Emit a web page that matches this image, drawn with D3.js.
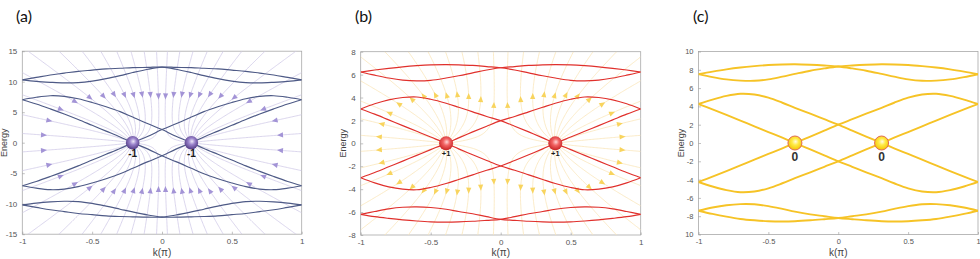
<!DOCTYPE html>
<html><head><meta charset="utf-8">
<script src="https://cdn.jsdelivr.net/npm/d3@7"></script>
<style>body{margin:0;background:#fff}svg{display:block}</style>
</head><body>
<svg id="chart" width="980" height="259"></svg>
<script>
// ---------------- DATA ----------------
const panelTitles = ["(a)", "(b)", "(c)"];
const xTicks = [-1, -0.5, 0, 0.5, 1];
const xTickLabels = ["-1", "-0.5", "0", "0.5", "1"];

// panel (a)
const kA = [-1,-0.9,-0.8,-0.7,-0.6,-0.5,-0.4,-0.3,-0.21,-0.1,0,0.1,0.21,0.3,0.4,0.5,0.6,0.7,0.8,0.9,1];
const aTop1 = [10.3,10.7,11.1,11.4,11.7,11.9,12.1,12.2,12.3,12.35,12.4,12.05,11.5,11.0,10.5,10.1,9.85,9.8,9.9,10.05,10.3];
const aTop2 = [10.3,10.05,9.9,9.8,9.85,10.1,10.5,11.0,11.5,12.05,12.4,12.35,12.3,12.2,12.1,11.9,11.7,11.4,11.1,10.7,10.3];
const aMid1 = [7.05,7.45,7.7,7.6,7.2,6.6,5.9,5.1,4.2,3.1,2.15,1.05,0,-0.95,-1.9,-2.85,-3.8,-4.7,-5.55,-6.35,-7.05];
const aMid2 = [-7.05,-6.35,-5.55,-4.7,-3.8,-2.85,-1.9,-0.95,0,1.05,2.15,3.1,4.2,5.1,5.9,6.6,7.2,7.6,7.7,7.45,7.05];
const aMid3 = [7.05,6.35,5.55,4.7,3.8,2.85,1.9,0.95,0,-1.05,-2.15,-3.1,-4.2,-5.1,-5.9,-6.6,-7.2,-7.6,-7.7,-7.45,-7.05];
const aMid4 = [-7.05,-7.45,-7.7,-7.6,-7.2,-6.6,-5.9,-5.1,-4.2,-3.1,-2.15,-1.05,0,0.95,1.9,2.85,3.8,4.7,5.55,6.35,7.05];
const aBot1 = [-10.2,-9.9,-9.7,-9.6,-9.65,-9.95,-10.4,-10.9,-11.35,-11.85,-12.2,-12.2,-12.15,-12.1,-12.0,-11.8,-11.6,-11.3,-11.0,-10.6,-10.2];
const aBot2 = [-10.2,-10.6,-11.0,-11.3,-11.6,-11.8,-12.0,-12.1,-12.15,-12.2,-12.2,-11.85,-11.35,-10.9,-10.4,-9.95,-9.65,-9.6,-9.7,-9.9,-10.2];
const aYTicks = [15,10,5,0,-5,-10,-15];
const aYTickLabels = ["15","10","5","0","-5","-10","-15"];
const aNodeK = [-0.21, 0.21];
const aNodeE = [0, 0];
const aNodeCharge = [-1, -1];
const aNodeLabels = ["-1", "-1"];

// panel (b)
const kB = [-1,-0.9,-0.8,-0.7,-0.6,-0.5,-0.39,-0.3,-0.2,-0.1,0,0.1,0.2,0.3,0.39,0.5,0.6,0.7,0.8,0.9,1];
const bTop1 = [6.23,6.4,6.55,6.68,6.78,6.85,6.87,6.85,6.8,6.7,6.6,6.4,6.15,5.9,5.7,5.5,5.45,5.52,5.7,5.95,6.23];
const bTop2 = [6.23,5.95,5.7,5.52,5.45,5.5,5.7,5.9,6.15,6.4,6.6,6.7,6.8,6.85,6.87,6.85,6.78,6.68,6.55,6.4,6.23];
const bMid1 = [3.0,3.45,3.8,4.0,4.05,3.85,3.5,3.15,2.75,2.35,1.98,1.5,1.0,0.48,0,-0.55,-1.05,-1.55,-2.05,-2.55,-3.0];
const bMid2 = [-3.0,-2.55,-2.05,-1.55,-1.05,-0.55,0,0.48,1.0,1.5,1.98,2.35,2.75,3.15,3.5,3.85,4.05,4.0,3.8,3.45,3.0];
const bMid3 = [3.0,2.55,2.05,1.55,1.05,0.55,0,-0.48,-1.0,-1.5,-1.98,-2.35,-2.75,-3.15,-3.5,-3.85,-4.05,-4.0,-3.8,-3.45,-3.0];
const bMid4 = [-3.0,-3.45,-3.8,-4.0,-4.05,-3.85,-3.5,-3.15,-2.75,-2.35,-1.98,-1.5,-1.0,-0.48,0,0.55,1.05,1.55,2.05,2.55,3.0];
const bBot1 = [-6.2,-5.95,-5.72,-5.58,-5.55,-5.6,-5.75,-5.95,-6.15,-6.4,-6.63,-6.72,-6.8,-6.85,-6.87,-6.85,-6.78,-6.68,-6.55,-6.4,-6.2];
const bBot2 = [-6.2,-6.4,-6.55,-6.68,-6.78,-6.85,-6.87,-6.85,-6.8,-6.72,-6.63,-6.4,-6.15,-5.95,-5.75,-5.6,-5.55,-5.58,-5.72,-5.95,-6.2];
const bYTicks = [8,6,4,2,0,-2,-4,-6,-8];
const bYTickLabels = ["8","6","4","2","0","-2","-4","-6","-8"];
const bNodeK = [-0.39, 0.39];
const bNodeE = [0, 0];
const bNodeCharge = [1, 1];
const bNodeLabels = ["+1", "+1"];

// panel (c)
const kC = [-1,-0.9,-0.8,-0.7,-0.6,-0.5,-0.4,-0.31,-0.2,-0.1,0,0.1,0.2,0.31,0.4,0.5,0.6,0.7,0.8,0.9,1];
const cTop1 = [7.52,7.8,8.05,8.25,8.4,8.52,8.58,8.6,8.55,8.47,8.36,8.15,7.9,7.55,7.25,6.95,6.8,6.82,6.95,7.2,7.52];
const cTop2 = [7.52,7.2,6.95,6.82,6.8,6.95,7.25,7.55,7.9,8.15,8.36,8.47,8.55,8.6,8.58,8.52,8.4,8.25,8.05,7.8,7.52];
const cMid1 = [4.26,4.75,5.15,5.38,5.3,4.95,4.4,3.85,3.2,2.6,2.0,1.35,0.7,0,-0.58,-1.2,-1.82,-2.45,-3.07,-3.67,-4.26];
const cMid2 = [-4.26,-3.67,-3.07,-2.45,-1.82,-1.2,-0.58,0,0.7,1.35,2.0,2.6,3.2,3.85,4.4,4.95,5.3,5.38,5.15,4.75,4.26];
const cMid3 = [4.26,3.67,3.07,2.45,1.82,1.2,0.58,0,-0.7,-1.35,-2.0,-2.6,-3.2,-3.85,-4.4,-4.95,-5.3,-5.38,-5.15,-4.75,-4.26];
const cMid4 = [-4.26,-4.75,-5.15,-5.38,-5.3,-4.95,-4.4,-3.85,-3.2,-2.6,-2.0,-1.35,-0.7,0,0.58,1.2,1.82,2.45,3.07,3.67,4.26];
const cBot1 = [-7.4,-7.05,-6.8,-6.68,-6.7,-6.9,-7.2,-7.5,-7.8,-8.0,-8.2,-8.33,-8.45,-8.55,-8.58,-8.55,-8.45,-8.3,-8.05,-7.75,-7.4];
const cBot2 = [-7.4,-7.75,-8.05,-8.3,-8.45,-8.55,-8.58,-8.55,-8.45,-8.33,-8.2,-8.0,-7.8,-7.5,-7.2,-6.9,-6.7,-6.68,-6.8,-7.05,-7.4];
const cYTicks = [10,8,6,4,2,0,-2,-4,-6,-8,-10];
const cYTickLabels = ["10","8","6","4","2","0","-2","-4","-6","-8","10"];
const cNodeK = [-0.31, 0.31];
const cNodeE = [0, 0];
const cNodeCharge = [0, 0];
const cNodeLabels = ["0", "0"];

// ---------------- LAYOUT / STYLE ----------------
const panels = [
  { title: panelTitles[0], titleX: 16, k: kA, curves: [aTop1,aTop2,aMid1,aMid2,aMid3,aMid4,aBot1,aBot2],
    yDomain: [-15,15], yTicks: aYTicks, yTickLabels: aYTickLabels,
    nodeK: aNodeK, nodeE: aNodeE, nodeQ: aNodeCharge, nodeLabels: aNodeLabels,
    x0: 22.3, x1: 301.7, y0: 51.2, y1: 234.2, energyX: 6.5,
    band: "#4e5a86", bandW: 1.15, fieldLine: "#d2cce9", arrow: "#a394d6",
    grad: ["#eee8fa", "#9b84cc", "#4c347f"], nodeR: 6.8, nodeStroke: "none",
    labelSize: 10, labelDy: 14.5, labelColor: "#1a1a1a", arrowSide: 0.8, arrowTop: 0.52 },
  { title: panelTitles[1], titleX: 355, k: kB, curves: [bTop1,bTop2,bMid1,bMid2,bMid3,bMid4,bBot1,bBot2],
    yDomain: [-8,8], yTicks: bYTicks, yTickLabels: bYTickLabels,
    nodeK: bNodeK, nodeE: bNodeE, nodeQ: bNodeCharge, nodeLabels: bNodeLabels,
    x0: 360.7, x1: 640.7, y0: 51.7, y1: 235, energyX: 345.5,
    band: "#e0302c", bandW: 1.15, fieldLine: "#fae6ba", arrow: "#f8d45e",
    grad: ["#ffd6d6", "#f26464", "#c41f1f"], nodeR: 7, nodeStroke: "none",
    labelSize: 7.5, labelDy: 12.5, labelColor: "#1a1a1a", arrowSide: 0.77, arrowTop: 0.52 },
  { title: panelTitles[2], titleX: 693, k: kC, curves: [cTop1,cTop2,cMid1,cMid2,cMid3,cMid4,cBot1,cBot2],
    yDomain: [-10,10], yTicks: cYTicks, yTickLabels: cYTickLabels,
    nodeK: cNodeK, nodeE: cNodeE, nodeQ: cNodeCharge, nodeLabels: cNodeLabels,
    x0: 698.5, x1: 978, y0: 51.5, y1: 234.5, energyX: 683.5,
    band: "#f6c326", bandW: 1.9, fieldLine: null, arrow: null,
    grad: ["#fffbe6", "#ffeb45", "#f2c200"], nodeR: 7, nodeStroke: "#e06a55",
    labelSize: 12, labelDy: 17.5, labelColor: "#333", arrowSide: 0.8, arrowTop: 0.5 }
];

const svg = d3.select("#chart");
const defs = svg.append("defs");

function fieldLines(chs, rect, N) {
  const lines = [];
  chs.forEach((c, i) => {
    for (let j = 0; j < N; j++) {
      const th = (j + 0.5) * 2 * Math.PI / N;
      let x = c.x + 2 * Math.cos(th), y = c.y + 2 * Math.sin(th);
      const pts = [[c.x, c.y], [x, y]];
      for (let s = 0; s < 4000; s++) {
        let ex = 0, ey = 0;
        chs.forEach(m => { const dx = x - m.x, dy = y - m.y, r2 = dx*dx + dy*dy + 1e-6; ex += dx / r2; ey += dy / r2; });
        const n = Math.hypot(ex, ey);
        if (n < 1e-9) break;
        let nx = x + 0.7 * ex / n, ny = y + 0.7 * ey / n;
        if (nx < rect.x0 || nx > rect.x1 || ny < rect.y0 || ny > rect.y1) {
          nx = Math.max(rect.x0, Math.min(rect.x1, nx));
          ny = Math.max(rect.y0, Math.min(rect.y1, ny));
          pts.push([nx, ny]);
          break;
        }
        x = nx; y = ny;
        if (s % 2 === 0) pts.push([x, y]);
      }
      lines.push({ pts, q: c.q, c });
    }
  });
  return lines;
}

panels.forEach((p, pi) => {
  const x = d3.scaleLinear().domain([-1, 1]).range([p.x0, p.x1]);
  const y = d3.scaleLinear().domain(p.yDomain).range([p.y1, p.y0]);
  const g = svg.append("g");

  g.append("text").attr("x", p.titleX).attr("y", 22).attr("font-family", "Lato, 'Open Sans', sans-serif")
    .attr("font-size", 16).attr("fill", "#111").text(p.title);

  g.append("rect").attr("x", p.x0).attr("y", p.y0).attr("width", p.x1 - p.x0).attr("height", p.y1 - p.y0)
    .attr("fill", "#fff").attr("stroke", "#a8a8a8").attr("stroke-width", 0.8);

  const ax = g.append("g").attr("transform", `translate(0,${p.y1})`)
    .call(d3.axisBottom(x).tickValues(xTicks).tickFormat((d, i) => xTickLabels[i]).tickSizeInner(-2.5).tickSizeOuter(0).tickPadding(4.5));
  const ay = g.append("g").attr("transform", `translate(${p.x0},0)`)
    .call(d3.axisLeft(y).tickValues(p.yTicks).tickFormat((d, i) => p.yTickLabels[i]).tickSizeInner(-2.5).tickSizeOuter(0).tickPadding(5));
  [ax, ay].forEach(a => {
    a.select(".domain").remove();
    a.selectAll(".tick line").attr("stroke", "#999").attr("stroke-width", 0.6);
    a.selectAll(".tick text").attr("fill", "#555").attr("font-family", "'Liberation Sans', Arial, sans-serif")
      .attr("font-size", pi === 2 ? 7.5 : 8);
  });

  g.append("text").attr("transform", `translate(${p.energyX},${(p.y0 + p.y1) / 2}) rotate(-90)`)
    .attr("text-anchor", "middle").attr("font-family", "'Liberation Sans', Arial, sans-serif")
    .attr("font-size", 9).attr("fill", "#444").text("Energy");
  g.append("text").attr("x", (p.x0 + p.x1) / 2).attr("y", 255.5).attr("text-anchor", "middle")
    .attr("font-family", "'Liberation Sans', Arial, sans-serif").attr("font-size", 10).attr("fill", "#444").text("k(π)");

  const clipId = "clip" + pi;
  defs.append("clipPath").attr("id", clipId).append("rect")
    .attr("x", p.x0).attr("y", p.y0).attr("width", p.x1 - p.x0).attr("height", p.y1 - p.y0);
  const plot = g.append("g").attr("clip-path", `url(#${clipId})`);

  const nodes = p.nodeK.map((k, i) => ({ x: x(k), y: y(p.nodeE[i]), q: p.nodeQ[i], label: p.nodeLabels[i] }));
  if (p.fieldLine) {
    const lines = fieldLines(nodes, { x0: p.x0, x1: p.x1, y0: p.y0, y1: p.y1 }, 24);
    const line = d3.line();
    plot.append("g").selectAll("path").data(lines).join("path")
      .attr("d", d => line(d.pts)).attr("fill", "none").attr("stroke", p.fieldLine).attr("stroke-width", 0.8);
    const arrows = lines.map(l => {
      const pts = l.pts, c = l.c;
      const axr = p.arrowSide * Math.min(c.x - p.x0, p.x1 - c.x);
      const byr = p.arrowTop * Math.min(c.y - p.y0, p.y1 - c.y);
      let i = 1;
      for (; i < pts.length - 1; i++) {
        const v = Math.pow(Math.abs(pts[i][0] - c.x) / axr, 2.5) + Math.pow(Math.abs(pts[i][1] - c.y) / byr, 2.5);
        if (v >= 1) break;
      }
      if (i >= pts.length - 1) i = Math.floor(pts.length * 0.6);
      const a = pts[Math.max(i - 1, 0)], b = pts[Math.min(i + 1, pts.length - 1)];
      const px = pts[i][0], py = pts[i][1];
      let dx = b[0] - a[0], dy = b[1] - a[1]; const n = Math.hypot(dx, dy) || 1; dx /= n; dy /= n;
      if (l.q < 0) { dx = -dx; dy = -dy; }
      return [[px + dx * 3.5, py + dy * 3.5], [px - dx * 2.5 - dy * 2.6, py - dy * 2.5 + dx * 2.6], [px - dx * 2.5 + dy * 2.6, py - dy * 2.5 - dx * 2.6]];
    });
    plot.append("g").selectAll("path").data(arrows).join("path")
      .attr("d", d => "M" + d.map(q => q.join(",")).join("L") + "Z").attr("fill", p.arrow);
  }

  const bandLine = d3.line().x((d, i) => x(p.k[i])).y(d => y(d)).curve(d3.curveCatmullRom.alpha(0.5));
  plot.append("g").selectAll("path").data(p.curves).join("path")
    .attr("d", d => bandLine(d)).attr("fill", "none").attr("stroke", p.band).attr("stroke-width", p.bandW)
    .attr("stroke-linejoin", "round");

  const gid = "grad" + pi;
  const rg = defs.append("radialGradient").attr("id", gid).attr("cx", "50%").attr("cy", "42%").attr("r", "60%").attr("fx", "55%").attr("fy", "40%");
  rg.append("stop").attr("offset", "0%").attr("stop-color", p.grad[0]);
  rg.append("stop").attr("offset", "40%").attr("stop-color", p.grad[1]);
  rg.append("stop").attr("offset", "100%").attr("stop-color", p.grad[2]);
  g.append("g").selectAll("circle").data(nodes).join("circle")
    .attr("cx", d => d.x).attr("cy", d => d.y).attr("r", p.nodeR)
    .attr("fill", `url(#${gid})`).attr("stroke", p.nodeStroke).attr("stroke-width", 1);
  g.append("g").selectAll("text").data(nodes).join("text")
    .attr("x", d => d.x).attr("y", d => d.y + p.labelDy).attr("text-anchor", "middle")
    .attr("font-family", "'Liberation Sans', Arial, sans-serif").attr("font-weight", "bold")
    .attr("font-size", p.labelSize).attr("fill", p.labelColor).text(d => d.label);
});
</script>
</body></html>
